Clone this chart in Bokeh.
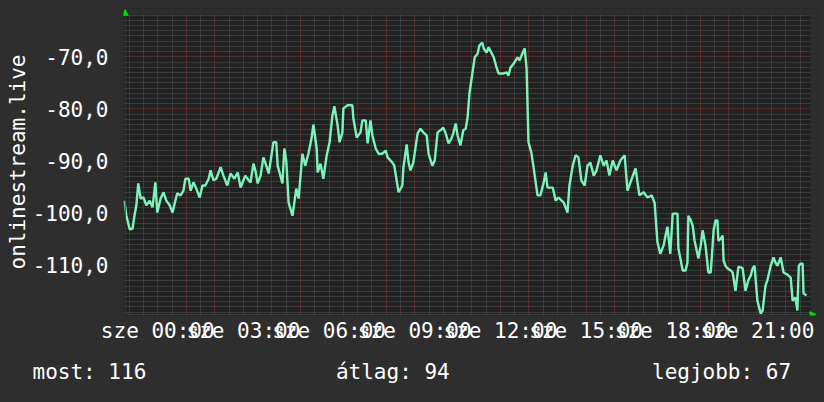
from bokeh.plotting import figure
from bokeh.models import (Range1d, FixedTicker, Grid, Title, Arrow, NormalHead,
                          AllLabels, BoxAnnotation)
from bokeh.embed import file_html
from bokeh.resources import INLINE

# ---- data ----
# minutes relative to "sze 00:00" (negative = previous evening)
minutes = [
    -70, -66, -59, -53, -49, -45, -41, -36, -30, -24, -17, -11, -5, -1, 6, 12, 18, 25, 31, 37,
    41, 48, 54, 58, 65, 69, 75, 81, 88, 94, 100, 107, 111, 117, 123, 132, 138, 146, 153, 161,
    168, 174, 180, 184, 191, 195, 201, 205, 210, 216, 222, 228, 233, 237, 243, 249, 252, 262, 266, 270,
    275, 283, 287, 291, 296, 304, 310, 317, 323, 327, 334, 336, 342, 348, 355, 361, 367, 371, 378, 382,
    388, 390, 399, 409, 411, 418, 426, 430, 437, 441, 447, 451, 458, 464, 472, 479, 483, 493, 497, 506,
    514, 516, 523, 527, 531, 537, 546, 552, 558, 565, 569, 577, 582, 588, 594, 600, 605, 611, 617, 621,
    626, 630, 636, 642, 647, 651, 655, 661, 666, 672, 676, 682, 685, 691, 695, 701, 706, 712, 716, 727,
    733, 737, 741, 748, 752, 756, 760, 766, 771, 775, 779, 785, 790, 798, 804, 811, 815, 819, 830, 836,
    842, 853, 861, 865, 872, 878, 884, 890, 897, 903, 909, 916, 922, 930, 937, 943, 949, 956, 964, 972,
    981, 987, 996, 1004, 1012, 1021, 1029, 1038, 1044, 1050, 1056, 1063, 1067, 1071, 1077, 1082, 1092, 1094, 1099, 1103,
    1109, 1113, 1115, 1120, 1124, 1128, 1134, 1136, 1141, 1145, 1151, 1157, 1162, 1168, 1172, 1176, 1178, 1183, 1187, 1189,
    1193, 1197, 1204, 1208, 1214, 1220, 1225, 1229, 1235, 1241, 1246, 1250, 1254, 1260, 1267, 1271, 1277, 1281, 1288, 1294,
    1298, 1302, 1309, 1315, 1319, 1323, 1330, 1334, 1340, 1344, 1347, 1351, 1355, 1357, 1363,
]
values = [
    -97.6, -100.5, -103.1, -103.0, -100.5, -98.5, -94.3, -97.2, -97.0, -98.5, -97.6, -98.9, -94.1, -99.9, -97.2, -96.0, -97.6, -98.5, -99.9, -97.6,
    -96.2, -96.6, -95.7, -93.4, -93.4, -95.7, -94.1, -95.3, -97.0, -94.7, -94.7, -93.4, -91.8, -93.7, -93.4, -91.2, -92.8, -94.7, -92.4, -93.4,
    -92.2, -95.1, -93.7, -92.8, -93.7, -94.1, -90.5, -91.8, -94.3, -92.8, -89.3, -90.9, -92.4, -90.1, -86.4, -86.4, -90.9, -94.3, -87.6, -89.9,
    -98.0, -100.5, -98.0, -95.3, -97.2, -88.6, -90.9, -88.4, -85.7, -83.0, -87.6, -92.2, -90.5, -93.4, -88.9, -86.4, -81.3, -79.5, -83.2, -86.4,
    -84.5, -79.9, -79.3, -79.3, -81.8, -85.5, -84.5, -82.2, -82.2, -86.6, -82.2, -85.1, -87.6, -88.6, -88.6, -88.0, -89.3, -90.3, -90.9, -96.0,
    -94.7, -91.4, -86.8, -90.3, -91.8, -90.3, -84.7, -83.8, -84.5, -85.1, -88.6, -90.9, -89.9, -84.5, -84.1, -83.6, -84.7, -86.6, -85.7, -84.7,
    -82.8, -85.1, -87.0, -84.1, -83.8, -81.7, -77.0, -73.2, -70.1, -69.4, -67.8, -67.3, -68.4, -69.2, -68.2, -69.2, -70.1, -72.1, -73.2, -73.2,
    -73.0, -73.6, -72.1, -71.3, -70.7, -70.1, -70.7, -69.4, -68.4, -72.2, -86.4, -88.4, -91.4, -96.6, -96.6, -94.1, -92.2, -95.1, -95.1, -97.6,
    -97.0, -98.0, -99.9, -94.7, -90.9, -88.9, -89.3, -93.7, -94.7, -90.9, -90.3, -92.8, -91.8, -88.9, -90.9, -89.9, -92.8, -89.9, -91.8, -89.9,
    -88.9, -95.7, -93.4, -91.4, -96.6, -96.0, -97.0, -96.6, -98.0, -105.6, -107.8, -106.2, -104.3, -102.6, -107.8, -100.1, -100.1, -106.8, -109.1, -111.0,
    -111.0, -109.5, -100.5, -101.4, -102.4, -105.3, -107.8, -108.7, -106.2, -103.3, -106.2, -111.4, -111.4, -103.3, -101.4, -101.4, -105.3, -104.9, -104.3, -109.1,
    -110.1, -110.6, -111.0, -111.4, -114.9, -110.3, -110.4, -110.6, -114.9, -112.9, -112.0, -110.6, -110.1, -116.8, -119.3, -118.7, -113.9, -112.9, -110.1, -108.5,
    -109.5, -110.1, -108.5, -111.4, -111.6, -111.8, -112.4, -116.8, -116.2, -118.7, -110.1, -109.7, -109.7, -115.4, -115.8,
]

tick_hours = [0, 3, 6, 9, 12, 15, 18, 21]
tick_labels = ["sze 00:00", "sze 03:00", "sze 06:00", "sze 09:00",
               "sze 12:00", "sze 15:00", "sze 18:00", "sze 21:00"]
y_ticks = [-110, -100, -90, -80, -70]
y_tick_labels = ["-110,0", "-100,0", "-90,0", "-80,0", "-70,0"]
axis_title = "onlinestream.live"
legend_names = ["most", "átlag", "legjobb"]
legend_values = [116, 94, 67]

hours = [m / 60.0 for m in minutes]

FONT = "DejaVu Sans Mono"
OUTER = "#2e2e2e"
INNER = "#212121"
LINE = "#7cf3bb"
MAJOR = "#8a3434"
MINOR = "#555555"
ARROW = "#00dd00"

# visible data window
x0, x1 = -1.2, 22.86
y0, y1 = -119.65, -61.88
# canvas frame slightly larger so the rrdtool axis arrows can poke out
fx1 = x1 + 0.245
fy1 = y1 + 1.15

p = figure(width=824, height=402,
           x_range=Range1d(x0, fx1), y_range=Range1d(y0, fy1),
           output_backend="svg", toolbar_location=None,
           min_border_left=123, min_border_right=7,
           min_border_top=8, min_border_bottom=87,
           background_fill_color=INNER, border_fill_color=OUTER,
           outline_line_color=None)

p.grid.visible = False

half_hours = [h + 0.5 for h in range(-2, 23)]
full_hours = list(range(-1, 23))
minor_y = [v for v in range(-119, -61) if v % 10 != 0]
major_y = [v for v in range(-110, -61, 10)]

for dim, ticks, col in [(0, half_hours, MINOR), (1, minor_y, MINOR),
                        (0, full_hours, MAJOR), (1, major_y, MAJOR)]:
    g = Grid(dimension=dim, ticker=FixedTicker(ticks=ticks),
             grid_line_color=col, grid_line_dash="1 1", grid_line_width=1)
    p.add_layout(g)

p.line(hours, values, line_color=LINE, line_width=2.4)

# mask the strips outside the data window with the page colour
p.add_layout(BoxAnnotation(left=x1, fill_color=OUTER, fill_alpha=1, line_color=None))
p.add_layout(BoxAnnotation(bottom=y1, fill_color=OUTER, fill_alpha=1, line_color=None))

# axes
xa = p.xaxis[0]
xa.ticker = FixedTicker(ticks=tick_hours)
xa.major_label_overrides = {t: l for t, l in zip(tick_hours, tick_labels)}
xa.major_label_policy = AllLabels()
ya = p.yaxis[0]
ya.ticker = FixedTicker(ticks=y_ticks)
ya.major_label_overrides = {t: l for t, l in zip(y_ticks, y_tick_labels)}
ya.axis_label = axis_title
for ax in (xa, ya):
    ax.axis_line_color = None
    ax.major_tick_line_color = None
    ax.minor_tick_line_color = None
    ax.major_label_text_font = FONT
    ax.major_label_text_font_size = "21px"
    ax.major_label_text_color = "#ffffff"
xa.major_label_standoff = -3
ya.major_label_standoff = 9
ya.axis_label_text_font = FONT
ya.axis_label_text_font_size = "21px"
ya.axis_label_text_font_style = "normal"
ya.axis_label_text_color = "#ffffff"
ya.axis_label_standoff = 0

# axis arrows (rrdtool style)
ax_x = x0 + 0.06
ax_y = y0 + 0.19
p.add_layout(Arrow(end=NormalHead(size=6, fill_color=ARROW, line_color=ARROW),
                   x_start=ax_x, y_start=ax_y, x_end=ax_x, y_end=y1 + 0.96,
                   line_color="#3c3c3c", line_width=1))
p.add_layout(Arrow(end=NormalHead(size=6, fill_color=ARROW, line_color=ARROW),
                   x_start=ax_x, y_start=ax_y, x_end=x1 + 0.19, y_end=ax_y,
                   line_color="#3c3c3c", line_width=1))

# legend line below the plot (monospace, spaced with no-break spaces)
NB = "\u00a0"
parts = [f"{n}: {v}" for n, v in zip(legend_names, legend_values)]
legend_text = parts[0] + NB * 15 + parts[1] + NB * 16 + parts[2]
p.add_layout(Title(text=legend_text, align="left", offset=-91, standoff=25,
                   text_font=FONT, text_font_size="21px", text_font_style="normal",
                   text_color="#ffffff"), "below")

html = file_html(p, INLINE)
html = html.replace("</head>", "<style>html,body{background-color:%s;}</style></head>" % OUTER, 1)
open("out.html", "w").write(html)
